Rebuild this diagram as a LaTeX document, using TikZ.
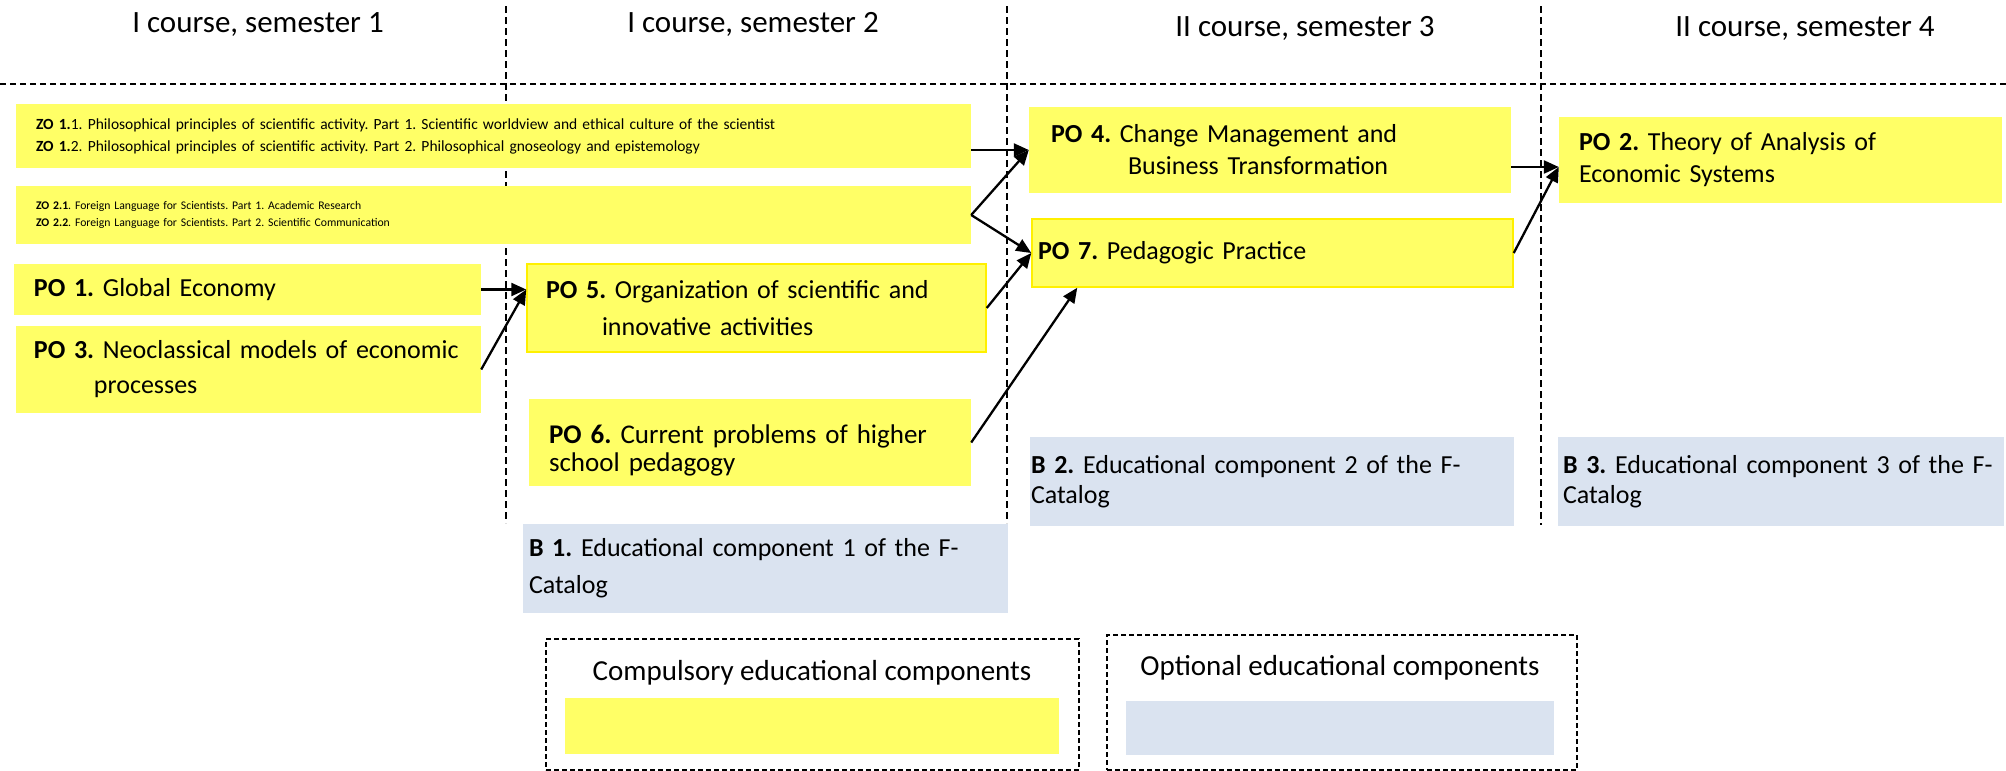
\documentclass[tikz,border=0pt]{standalone}
\usepackage{fontspec}
\setmainfont{Carlito}
\usetikzlibrary{arrows.meta}
\frenchspacing
\hyphenpenalty=10000
\exhyphenpenalty=10000

\definecolor{compyellow}{HTML}{FFFF66}
\definecolor{compedge}{HTML}{FFF000}
\definecolor{optblue}{HTML}{DAE3F0}

\tikzstyle{compbox} = [rectangle, fill=compyellow, align=left, inner ysep=0pt,
                       font=\fontsize{26}{32}\selectfont]
\tikzstyle{optbox} = [rectangle, fill=optblue, align=left, inner ysep=0pt,
                      font=\fontsize{26}{32}\selectfont]
\tikzstyle{colhead} = [font=\fontsize{31}{36}\selectfont, anchor=base]
\tikzstyle{divider} = [line width=1.5pt, dash pattern=on 7pt off 4pt]
\tikzstyle{legframe} = [rectangle, draw=black, line width=1.5pt,
                        dash pattern=on 5pt off 3pt]
\tikzstyle{legtext} = [font=\fontsize{29}{34}\selectfont, anchor=base]
\tikzstyle{arrow} = [line width=2.3pt, -{Triangle[length=15pt,width=13pt]}]

\begin{document}
\begin{tikzpicture}[x=1pt, y=-1pt]
  \useasboundingbox (0,0) rectangle (2006,771);
  %dividers
  \draw [divider, line width=2pt, dash pattern=on 6pt off 4pt] (0,84) -- (2006,84);
  \draw [divider] (506,6) -- (506,523);
  \draw [divider] (1007,6) -- (1007,523);
  \draw [divider] (1541,6) -- (1541,525);
  %headers
  \node (sem1) [colhead] at (258,32) {I course, semester 1};
  \node (sem2) [colhead] at (753,32) {I course, semester 2};
  \node (sem3) [colhead] at (1305,36) {II course, semester 3};
  \node (sem4) [colhead] at (1805,36) {II course, semester 4};
  %blocks
  \node (zo1) [compbox, text width=915pt, inner xsep=20pt, minimum height=64pt,
               font=\fontsize{15.5}{22}\selectfont] at (493.5,136)
    {\textbf{ZO 1.}1. Philosophical principles of scientific activity. Part 1. Scientific worldview and ethical culture of the scientist\\
     \textbf{ZO 1.}2. Philosophical principles of scientific activity. Part 2. Philosophical gnoseology and epistemology};
  \node (zo2) [compbox, text width=915pt, inner xsep=20pt, minimum height=58pt,
               font=\fontsize{11.7}{17}\selectfont] at (493.5,215)
    {\textbf{ZO 2.1}. Foreign Language for Scientists. Part 1. Academic Research\\
     \textbf{ZO 2.2}. Foreign Language for Scientists. Part 2. Scientific Communication};
  \node (po1) [compbox, text width=427pt, inner xsep=20pt, minimum height=51pt]
    at (247.5,289.5) {\textbf{PO 1.} Global Economy};
  \node (po3) [compbox, text width=429pt, inner xsep=18pt, minimum height=87pt,
               font=\fontsize{26}{35}\selectfont] at (248.5,369.5)
    {\textbf{PO 3.} Neoclassical models of economic\\\hspace*{60pt}processes};
  \node (po5) [compbox, draw=compedge, line width=1.5pt, text width=421pt,
               inner xsep=19pt, minimum height=88pt,
               font=\fontsize{26}{37}\selectfont] at (756.5,308)
    {\textbf{PO 5.} Organization of scientific and\\\hspace*{56pt}innovative activities};
  \node (po6) [compbox, text width=402pt, inner xsep=20pt, minimum height=87pt,
               font=\fontsize{27}{28}\selectfont] at (750,442.5)
    {\rule{0pt}{34pt}\textbf{PO 6.} Current problems of higher\\school pedagogy};
  \node (b1) [optbox, text width=473pt, inner xsep=6pt, minimum height=89pt,
              font=\fontsize{26}{37}\selectfont] at (765.5,568.5)
    {\textbf{B 1.} Educational component 1 of the F-\\Catalog};
  \node (po4) [compbox, text width=438pt, inner xsep=22pt, minimum height=86pt]
    at (1270,150)
    {\textbf{PO 4.} Change Management and\\\hspace*{77pt}Business Transformation};
  \node (po7) [compbox, draw=compedge, line width=1.5pt, text width=469pt,
               inner xsep=6pt, minimum height=68pt] at (1272.5,253)
    {\textbf{PO 7.} Pedagogic Practice};
  \node (po2) [compbox, text width=403pt, inner xsep=20pt, minimum height=86pt]
    at (1780.5,160) {\textbf{PO 2.} Theory of Analysis of\\Economic Systems};
  \node (b2) [optbox, text width=482pt, inner xsep=1pt, minimum height=89pt,
              font=\fontsize{26}{30}\selectfont] at (1272,481.5)
    {\textbf{B 2.} Educational component 2 of the F-\\Catalog};
  \node (b3) [optbox, text width=436pt, inner xsep=5pt, minimum height=89pt,
              font=\fontsize{26}{30}\selectfont] at (1781,481.5)
    {\textbf{B 3.} Educational component 3 of the F-\\Catalog};
  %connections
  \coordinate (po5in) at (po5.west |- po1.east);
  \coordinate (po2in) at ([yshift=-7pt]po2.west);
  % semester 1 -> po5
  \draw [arrow] (po1.east) -- (po5in);
  \draw [arrow] (po3.east) -- (po5in);
  % zo -> po4, po7
  \draw [arrow] (zo1.east |- po4.west) -- (po4.west);
  \draw [arrow] (zo2.east) -- (po4.west);
  \draw [arrow] (zo2.east) -- (po7.west);
  % semester 2 -> po7
  \draw [arrow] (po5.east) -- (po7.west);
  \draw [arrow] (po6.east) -- ([xshift=46pt]po7.south west);
  % semester 3 -> po2
  \draw [arrow] (po4.east |- po2in) -- (po2in);
  \draw [arrow] (po7.east) -- (po2in);
  %legend
  \node (legc) [legframe, minimum width=533pt, minimum height=131pt]
    at (812.5,704.5) {};
  \node (lego) [legframe, minimum width=470pt, minimum height=135pt]
    at (1342,702.5) {};
  \node (legctext) [legtext] at (812,680) {Compulsory educational components};
  \node (legotext) [legtext] at (1340,675) {Optional educational components};
  \node (legcswatch) [rectangle, fill=compyellow, minimum width=494pt,
                      minimum height=56pt] at (812,726) {};
  \node (legoswatch) [rectangle, fill=optblue, minimum width=428pt,
                      minimum height=54pt] at (1340,728) {};
\end{tikzpicture}
\end{document}
